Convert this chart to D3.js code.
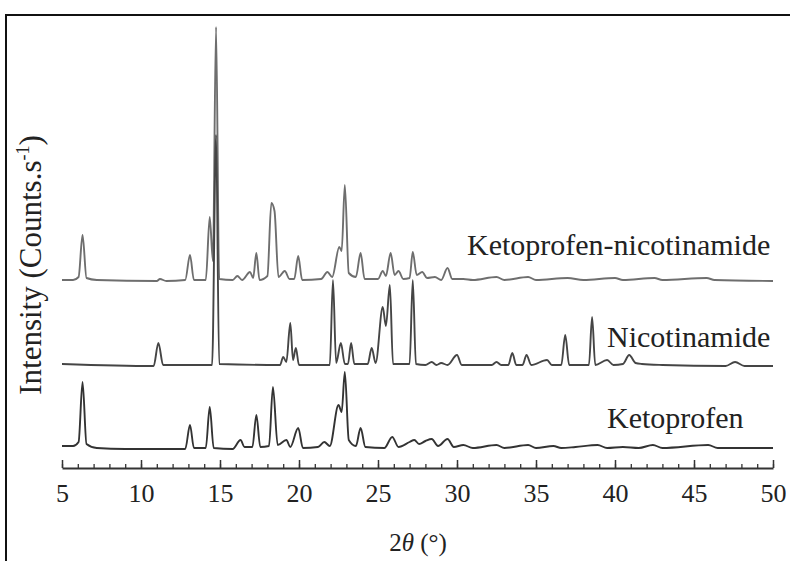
<!DOCTYPE html>
<html>
<head>
<meta charset="utf-8">
<script src="https://cdn.jsdelivr.net/npm/d3@7"></script>
</head>
<body style="margin:0">
<div id="chart"></div>
<script>

// 2theta / intensity pairs (intensity above each trace's own baseline)
var ketoprofen = [
    [5.0, 40], [5.7, 40], [6.05, 80], [6.3, 680], [6.55, 60], [7.2, 20], [9.0, 10], [12.8, 10],
    [13.1, 250], [13.35, 20], [14.1, 20], [14.35, 430], [14.6, 20], [15.8, 10], [16.3, 100],
    [16.55, 30], [17.05, 30], [17.3, 350], [17.55, 30], [18.1, 40], [18.35, 630], [18.65, 50],
    [19.2, 100], [19.45, 30], [19.95, 220], [20.25, 20], [21.2, 30], [21.6, 80], [21.95, 40],
    [22.5, 450], [22.7, 380], [22.9, 780], [23.15, 100], [23.6, 40], [23.9, 220], [24.2, 30],
    [25.4, 20], [25.9, 130], [26.3, 30], [27.0, 80], [27.3, 100], [27.6, 60], [28.0, 90],
    [28.4, 110], [28.8, 40], [29.4, 110], [29.8, 30], [30.4, 50], [31.0, 20], [32.5, 50],
    [33.0, 20], [34.5, 50], [35.0, 20], [36.1, 40], [36.6, 20], [37.5, 30], [38.9, 50],
    [39.5, 20], [40.5, 30], [41.5, 20], [42.4, 50], [43.0, 20], [45.9, 50], [46.5, 20],
    [50.0, 20]
];

var nicotinamide = [
    [5.0, 20], [10.8, 0], [11.1, 230], [11.4, 10], [14.5, 10], [14.75, 2310], [14.95, 20],
    [18.8, 10], [19.0, 90], [19.2, 40], [19.45, 430], [19.62, 60], [19.8, 180], [20.0, 10],
    [21.95, 10], [22.15, 860], [22.35, 30], [22.65, 230], [22.9, 20], [23.1, 20], [23.3, 230],
    [23.5, 20], [24.35, 20], [24.6, 180], [24.85, 30], [25.3, 590], [25.5, 400], [25.75, 810],
    [25.95, 20], [27.0, 20], [27.2, 860], [27.4, 20], [28.0, 10], [28.4, 40], [28.7, 10],
    [29.0, 30], [29.4, 10], [30.0, 110], [30.3, 10], [32.2, 10], [32.5, 40], [32.8, 10],
    [33.25, 10], [33.5, 130], [33.75, 10], [34.15, 10], [34.4, 110], [34.7, 10], [35.7, 60],
    [36.0, 10], [36.6, 10], [36.85, 310], [37.1, 10], [38.35, 10], [38.55, 490], [38.75, 10],
    [39.5, 60], [39.9, 10], [40.5, 20], [40.9, 110], [41.3, 30], [41.7, 20], [43.0, 10],
    [47.0, 0], [47.6, 40], [48.2, 0], [50.0, 0]
];

var cocrystal = [
    [5.0, 10], [5.7, 10], [6.05, 40], [6.3, 460], [6.55, 30], [7.2, 10], [11.0, 0], [11.2, 20],
    [11.6, 0], [12.8, 10], [13.1, 260], [13.35, 10], [14.1, 10], [14.35, 640], [14.55, 200],
    [14.75, 2540], [14.95, 20], [15.8, 10], [16.1, 50], [16.4, 10], [16.9, 90], [17.1, 30],
    [17.3, 280], [17.5, 10], [18.0, 50], [18.25, 780], [18.45, 700], [18.7, 40], [19.1, 100],
    [19.4, 20], [19.7, 20], [19.95, 250], [20.2, 10], [21.4, 20], [21.8, 90], [22.1, 40],
    [22.55, 340], [22.7, 300], [22.9, 960], [23.15, 80], [23.6, 40], [23.9, 280], [24.15, 20],
    [25.0, 20], [25.3, 100], [25.5, 50], [25.8, 280], [26.05, 60], [26.3, 100], [26.6, 20],
    [27.0, 30], [27.2, 290], [27.45, 60], [27.8, 90], [28.1, 30], [28.6, 40], [29.0, 10],
    [29.4, 130], [29.7, 20], [30.4, 20], [31.0, 10], [32.5, 40], [33.0, 10], [34.5, 40],
    [35.0, 10], [37.0, 30], [38.0, 10], [40.0, 30], [40.5, 10], [42.5, 30], [43.0, 10],
    [45.8, 30], [46.3, 10], [50.0, 0]
];

// vertical offsets that stack the patterns
var seriesNames = ["Ketoprofen", "Nicotinamide", "Ketoprofen-nicotinamide"];
var seriesOffsets = [180, 1020, 1870];
var seriesColors = ["#333333", "#454545", "#6e6e6e"];

var xTicks = [5, 10, 15, 20, 25, 30, 35, 40, 45, 50];
var xMinorTicks = d3.range(5, 51, 1);

var width = 790, height = 561;

var svg = d3.select("#chart").append("svg")
    .attr("width", width)
    .attr("height", height);

var x = d3.scaleLinear()
    .domain([5, 50])
    .range([62, 773]);

var y = d3.scaleLinear()
    .domain([0, 4500])
    .range([468, 18]);

// serif text helper (same way the font test picked it up)
function serifText(sel, size) {
    return sel.style("font-family", "'Liberation Serif'")
        .attr("font-size", size)
        .attr("fill", "#222");
}

// trace labels
var labelPos = [[607, 428], [607, 347], [467, 255]];
seriesNames.forEach(function(name, i) {
    serifText(svg.append("text")
        .attr("x", labelPos[i][0])
        .attr("y", labelPos[i][1]), 30)
        .text(name);
});

// axis titles
var yTitle = serifText(svg.append("text")
    .attr("transform", "translate(41,265) rotate(-90)")
    .attr("text-anchor", "middle"), 31);
yTitle.append("tspan").text("Intensity (Counts.s");
yTitle.append("tspan").attr("font-size", 18).attr("dy", -12).text("-1");
yTitle.append("tspan").attr("dy", 12).text(")");

var xTitle = serifText(svg.append("text")
    .attr("x", 418)
    .attr("y", 551)
    .attr("text-anchor", "middle"), 25);
xTitle.append("tspan").text("2");
xTitle.append("tspan").attr("font-style", "italic").text("θ");
xTitle.append("tspan").text(" (°)");

// frame lines of the original figure
svg.append("line")
    .attr("x1", 5).attr("x2", 790)
    .attr("y1", 15).attr("y2", 15)
    .attr("stroke", "#111").attr("stroke-width", 2);
svg.append("line")
    .attr("x1", 6).attr("x2", 6)
    .attr("y1", 15).attr("y2", 561)
    .attr("stroke", "#111").attr("stroke-width", 2);

var line = d3.line()
    .curve(d3.curveMonotoneX);

var allSeries = [ketoprofen, nicotinamide, cocrystal];

// draw top trace first so the lower ones sit over it
[2, 1, 0].forEach(function(i) {
    line.x(function(d) { return x(d[0]); })
        .y(function(d) { return y(d[1] + seriesOffsets[i]); });
    svg.append("path")
        .datum(allSeries[i])
        .attr("fill", "none")
        .attr("stroke", seriesColors[i])
        .attr("stroke-width", 1.9)
        .attr("stroke-linejoin", "round")
        .attr("d", line);
});

// axis: minor ticks, then labelled major ticks (ticks point up)
var minorAxis = d3.axisBottom(x)
    .tickValues(xMinorTicks)
    .tickSizeInner(-4)
    .tickSizeOuter(0)
    .tickFormat("");

var xAxis = d3.axisBottom(x)
    .tickValues(xTicks)
    .tickSizeInner(-8)
    .tickSizeOuter(0)
    .tickPadding(16)
    .tickFormat(d3.format("d"));

svg.append("g")
    .attr("transform", "translate(0," + 468 + ")")
    .call(minorAxis)
    .call(function(g) { g.selectAll("line").attr("stroke", "#333").attr("stroke-width", 1.3); })
    .call(function(g) { g.select(".domain").remove(); });

svg.append("g")
    .attr("class", "axis x-axis")
    .attr("transform", "translate(0," + 468 + ")")
    .call(xAxis)
    .call(function(g) {
        g.attr("font-family", null).attr("font-size", null);
        g.select(".domain").attr("stroke", "#333").attr("stroke-width", 2);
        g.selectAll("line").attr("stroke", "#333").attr("stroke-width", 1.5);
        serifText(g.selectAll("text"), 26);
    });

</script>
</body>
</html>
